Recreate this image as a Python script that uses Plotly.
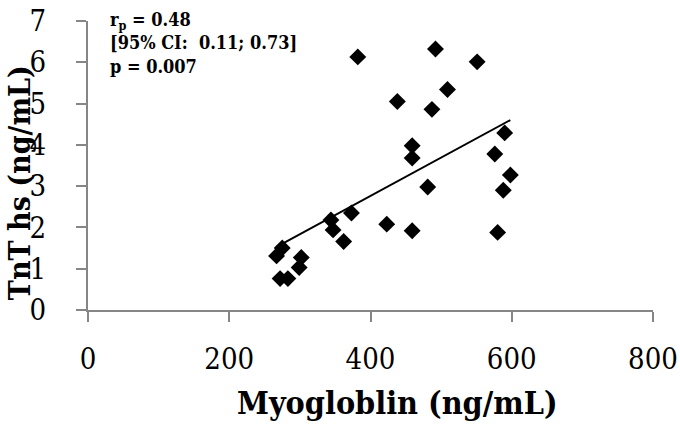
import numpy as np
import plotly.graph_objects as go

# Myoglobin (ng/mL) vs TnT hs (ng/mL)
myoglobin = [382, 492, 551, 509, 438, 487, 590, 459, 459, 576, 598, 588, 481,
             373, 344, 347, 362, 423, 459, 580, 275, 267, 302, 299, 272, 283]
tnt_hs = [6.13, 6.32, 6.01, 5.34, 5.05, 4.86, 4.29, 3.98, 3.68, 3.78, 3.27, 2.90, 2.98,
          2.35, 2.18, 1.94, 1.66, 2.08, 1.92, 1.88, 1.50, 1.31, 1.27, 1.03, 0.76, 0.76]

x_ticks = [0, 200, 400, 600, 800]
y_ticks = [0, 1, 2, 3, 4, 5, 6, 7]
x_title = "Myogloblin (ng/mL)"
y_title = "TnT hs (ng/mL)"
stats_text = "r<sub>p</sub> = 0.48<br>[95% CI:  0.11; 0.73]<br>p = 0.007"

slope, intercept = np.polyfit(myoglobin, tnt_hs, 1)
x_line = [min(myoglobin), max(myoglobin)]
y_line = [slope * v + intercept for v in x_line]

FONT = "DejaVu Serif Condensed, DejaVu Serif, serif"
AXIS_COLOR = "#868686"

fig = go.Figure()
fig.add_trace(go.Scatter(x=x_line, y=y_line, mode="lines",
                         line=dict(color="black", width=2), hoverinfo="skip"))
fig.add_trace(go.Scatter(x=myoglobin, y=tnt_hs, mode="markers",
                         marker=dict(symbol="diamond", size=13, color="black")))

fig.update_layout(
    width=680, height=425,
    margin=dict(l=88, r=27, t=21, b=115, autoexpand=False),
    paper_bgcolor="white", plot_bgcolor="white",
    showlegend=False,
    font=dict(family=FONT, color="black"),
    xaxis=dict(range=[0, 800], tickvals=x_ticks, showgrid=False, zeroline=False,
               automargin=False,
               showline=True, linecolor=AXIS_COLOR, linewidth=2,
               ticks="outside", ticklen=10, tickwidth=2, tickcolor=AXIS_COLOR,
               tickfont=dict(size=29, family=FONT, color="black"),
               ticklabelstandoff=12),
    yaxis=dict(range=[0, 7], tickvals=y_ticks, showgrid=False, zeroline=False,
               automargin=False,
               showline=True, linecolor=AXIS_COLOR, linewidth=2,
               ticks="outside", ticklen=10, tickwidth=2, tickcolor=AXIS_COLOR,
               tickfont=dict(size=29, family=FONT, color="black"),
               ticklabelstandoff=24),
    annotations=[
        dict(text=stats_text, xref="paper", yref="paper", x=(108 - 88) / 565,
             y=1.0 + 14 / 289.3, xanchor="left", yanchor="top", align="left", showarrow=False,
             font=dict(size=18, family=FONT, color="black", weight="bold")),
        dict(text="<b>" + x_title + "</b>", xref="paper", yref="paper",
             x=(397 - 88) / 565, y=(310 - 403) / 289.3, xanchor="center", yanchor="middle",
             showarrow=False, font=dict(size=32, family=FONT, color="black")),
        dict(text="<b>" + y_title + "</b>", xref="paper", yref="paper",
             x=(19 - 88) / 565, y=(310 - 183) / 289.3, xanchor="center", yanchor="middle",
             textangle=-90, showarrow=False, font=dict(size=30, family=FONT, color="black")),
    ],
)

# remove the browser's default 8px body margin so the 680x425 figure fills the window
fig.write_html("out.html", config={"displayModeBar": False},
               post_script="document.body.style.margin='0';")
